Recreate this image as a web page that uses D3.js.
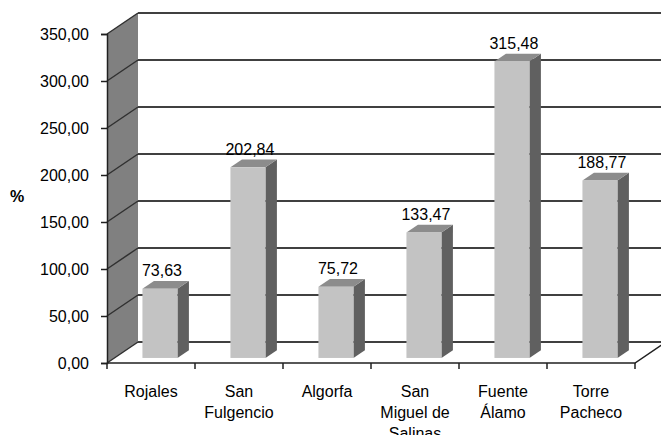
<!DOCTYPE html>
<html>
<head>
<meta charset="utf-8">
<script src="https://cdn.jsdelivr.net/npm/d3@7"></script>
<style>
  body { margin: 0; background: #fff; }
  svg { display: block; font-family: "Liberation Sans", Arial, sans-serif; }
</style>
</head>
<body>
<div id="chart"></div>
<script>
// data
const categories = ["Rojales", "San Fulgencio", "Algorfa", "San Miguel de Salinas", "Fuente Álamo", "Torre Pacheco"];
const categoryLines = [["Rojales"], ["San", "Fulgencio"], ["Algorfa"], ["San", "Miguel de", "Salinas"], ["Fuente", "Álamo"], ["Torre", "Pacheco"]];
const values = [73.63, 202.84, 75.72, 133.47, 315.48, 188.77];
const yTicks = [0, 50, 100, 150, 200, 250, 300, 350];

const width = 661, height = 435;
const depth = { dx: 31, dy: -21 };   // 3d offset of the back wall
const fmt = v => d3.format(".2f")(v).replace(".", ",");

const svg = d3.select("#chart").append("svg")
    .attr("width", width)
    .attr("height", height);

const y = d3.scaleLinear().domain([0, 350]).range([363, 34]);
const x = d3.scaleBand().domain(categories).range([107, 635]);

// project a point at depth t (0 = front, 1 = back)
const px = (xv, t) => xv + depth.dx * t;
const py = (yv, t) => yv + depth.dy * t;

const x0 = x.range()[0], x1 = x.range()[1];

// left wall
svg.append("polygon")
    .attr("points", [[x0, y(350)], [px(x0, 1), py(y(350), 1)], [px(x0, 1), py(y(0), 1)], [x0, y(0)]].join(" "))
    .attr("fill", "#808080");

// gridlines on back wall + left wall
yTicks.forEach(t => {
    svg.append("line")
        .attr("x1", px(x0, 1)).attr("x2", width + 10)
        .attr("y1", py(y(t), 1)).attr("y2", py(y(t), 1))
        .attr("stroke", "#404040").attr("stroke-width", 2);
    svg.append("line")
        .attr("x1", x0).attr("y1", y(t))
        .attr("x2", px(x0, 1)).attr("y2", py(y(t), 1))
        .attr("stroke", "#303030").attr("stroke-width", 1.5);
});

// floor edges
svg.append("path")
    .attr("d", `M${x0},${y(0)}H${x1}L${px(x1, 1)},${py(y(0), 1)}`)
    .attr("fill", "none")
    .attr("stroke", "#202020").attr("stroke-width", 1.5);

// bars
const t0 = 0.24, t1 = 0.61;
const barW = 35, barOff = 28;
const bars = svg.append("g");
categories.forEach((c, i) => {
    const v = values[i];
    const xl = px(x(c) + barOff, t0), xr = xl + barW;
    const yb = py(y(0), t0), yt = py(y(v), t0);
    const ddx = depth.dx * (t1 - t0), ddy = depth.dy * (t1 - t0);

    // side
    bars.append("polygon")
        .attr("points", [[xr, yt], [xr + ddx, yt + ddy], [xr + ddx, yb + ddy], [xr, yb]].join(" "))
        .attr("fill", "#606060");
    // top
    bars.append("polygon")
        .attr("points", [[xl, yt], [xl + ddx, yt + ddy], [xr + ddx, yt + ddy], [xr, yt]].join(" "))
        .attr("fill", "#8c8c8c");
    // front
    bars.append("rect")
        .attr("x", xl).attr("y", yt)
        .attr("width", barW).attr("height", yb - yt)
        .attr("fill", "#c3c3c3");

    bars.append("text")
        .attr("x", xl + barW / 2 + 2)
        .attr("y", yt + ddy - 5)
        .attr("text-anchor", "middle")
        .attr("font-size", 16)
        .attr("fill", "#000")
        .text(fmt(v));
});

// y axis
const yAxis = d3.axisLeft(y).tickValues(yTicks).tickSize(6).tickFormat(fmt);
const gy = svg.append("g")
    .attr("transform", `translate(${x0},0)`)
    .call(yAxis);
gy.select(".domain").attr("stroke", "#202020").attr("stroke-width", 1.5);
gy.selectAll(".tick line").attr("stroke", "#202020").attr("stroke-width", 1.5);
gy.selectAll(".tick text")
    .attr("x", -18)
    .attr("font-size", 16)
    .attr("font-family", "Liberation Sans, Arial, sans-serif")
    .attr("fill", "#000");

// x ticks
const xTickPos = categories.map(c => x(c)).concat([x1]);
svg.selectAll(".xtick").data(xTickPos).enter().append("line")
    .attr("x1", d => d).attr("x2", d => d)
    .attr("y1", y(0)).attr("y2", y(0) + 6)
    .attr("stroke", "#202020").attr("stroke-width", 1.5);

// category labels
categories.forEach((c, i) => {
    const txt = svg.append("text")
        .attr("x", x(c) + x.bandwidth() / 2)
        .attr("y", 397)
        .attr("text-anchor", "middle")
        .attr("font-size", 16)
        .attr("fill", "#000");
    categoryLines[i].forEach((line, j) => {
        txt.append("tspan")
            .attr("x", x(c) + x.bandwidth() / 2)
            .attr("y", 397 + j * 21)
            .text(line);
    });
});

// axis title
svg.append("text")
    .attr("x", 17)
    .attr("y", 202)
    .attr("text-anchor", "middle")
    .attr("font-size", 16)
    .attr("font-weight", "bold")
    .text("%");
</script>
</body>
</html>
